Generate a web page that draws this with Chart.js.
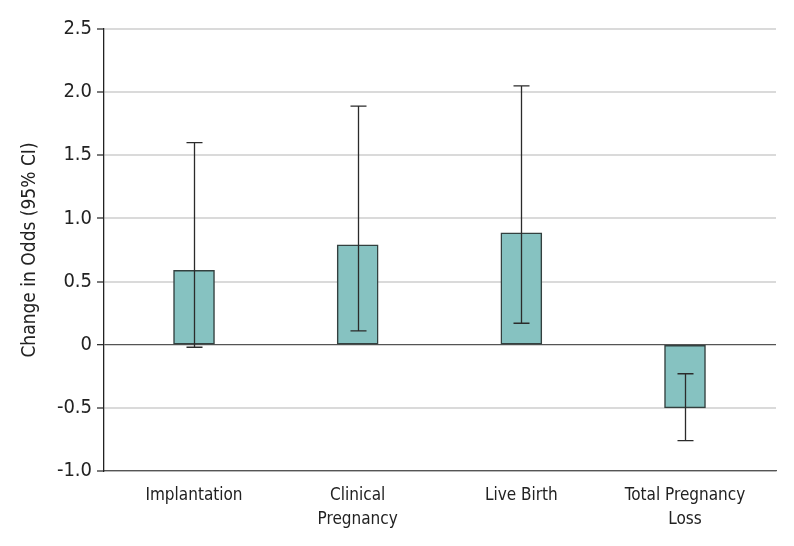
<!DOCTYPE html>
<html>
<head>
<meta charset="utf-8">
<script src="https://cdn.jsdelivr.net/npm/chart.js@4"></script>
<style>
  html, body { margin: 0; padding: 0; background: #fff; }
  #wrap { width: 794px; height: 546px; }
</style>
</head>
<body>
<div id="wrap"><canvas id="oddsChart" width="794" height="546"></canvas></div>
<script>
// Data
const categories = [['Implantation'], ['Clinical', 'Pregnancy'], ['Live Birth'], ['Total Pregnancy', 'Loss']];
const categoryPos = [1, 2, 3, 4];
const oddsChange = [0.59, 0.79, 0.885, -0.50];
const ciLow = [-0.02, 0.11, 0.17, -0.76];
const ciHigh = [1.60, 1.89, 2.05, -0.23];
const yTicks = [-1.0, -0.5, 0, 0.5, 1.0, 1.5, 2.0, 2.5];

const FONT = '"DejaVu Sans Condensed", "DejaVu Sans", sans-serif';

// draws the 95% CI whiskers on top of the bars
const errorBarPlugin = {
    id: 'errorBarPlugin',
    afterDatasetsDraw: function(chart) {
        const ctx = chart.ctx;
        const xScale = chart.scales.x;
        const yScale = chart.scales.y;
        const capHalf = 8;
        ctx.save();
        ctx.strokeStyle = '#2b2b2b';
        ctx.lineWidth = 1.3;
        for (let i = 0; i < categoryPos.length; i++) {
            let x = Math.round(xScale.getPixelForValue(categoryPos[i])) + 0.5;
            let yLo = yScale.getPixelForValue(ciLow[i]);
            let yHi = yScale.getPixelForValue(ciHigh[i]);
            ctx.beginPath();
            ctx.moveTo(x, yLo);
            ctx.lineTo(x, yHi);
            ctx.moveTo(x - capHalf, yLo);
            ctx.lineTo(x + capHalf, yLo);
            ctx.moveTo(x - capHalf, yHi);
            ctx.lineTo(x + capHalf, yHi);
            ctx.stroke();
        }
        ctx.restore();
    }
};

const ctx = document.getElementById('oddsChart').getContext('2d');
const config = {
    type: 'bar',
    data: {
        datasets: [{
            data: categoryPos.map((x, i) => ({ x: x, y: oddsChange[i] })),
            backgroundColor: '#86c2c1',
            borderColor: '#33403f',
            borderWidth: 1.5,
            borderSkipped: false,
            barThickness: 41
        }]
    },
    options: {
        responsive: false,
        animation: false,
        layout: {
            padding: { top: 29, right: 18, left: 0, bottom: 0 }
        },
        scales: {
            x: {
                type: 'linear',
                offset: false,
                min: 0.45,
                max: 4.556,
                grid: { display: false },
                border: { display: true, color: '#555', width: 1.3 },
                afterFit: function(scale) { scale.height = 75; },
                ticks: {
                    stepSize: 1,
                    includeBounds: false,
                    autoSkip: false,
                    maxRotation: 0,
                    padding: 4,
                    color: '#222',
                    font: { family: FONT, size: 17, lineHeight: 1.45 },
                    callback: function(value) {
                        let idx = categoryPos.indexOf(value);
                        return idx >= 0 ? categories[idx] : '';
                    }
                }
            },
            y: {
                min: yTicks[0],
                max: yTicks[yTicks.length - 1],
                afterFit: function(scale) { scale.width = 104; },
                afterBuildTicks: function(scale) {
                    scale.ticks = yTicks.map(v => ({ value: v }));
                },
                border: { display: true, color: '#222', width: 1.3 },
                grid: {
                    color: c => (c.tick && c.tick.value === 0) ? '#555' : '#dadada',
                    lineWidth: c => (c.tick && c.tick.value === 0) ? 1.3 : 2,
                    tickColor: '#333',
                    tickLength: 7,
                    tickWidth: 1.3
                },
                ticks: {
                    padding: 5,
                    color: '#222',
                    font: { family: FONT, size: 20 },
                    callback: function(value) {
                        return value === 0 ? '0' : value.toFixed(1);
                    }
                },
                title: {
                    display: true,
                    text: 'Change in Odds (95% CI)',
                    color: '#222',
                    font: { family: FONT, size: 19 },
                    padding: { top: 19, bottom: 0 }
                }
            }
        },
        plugins: {
            legend: { display: false },
            tooltip: { enabled: false }
        }
    },
    plugins: [errorBarPlugin]
};

new Chart(ctx, config);
</script>
</body>
</html>
